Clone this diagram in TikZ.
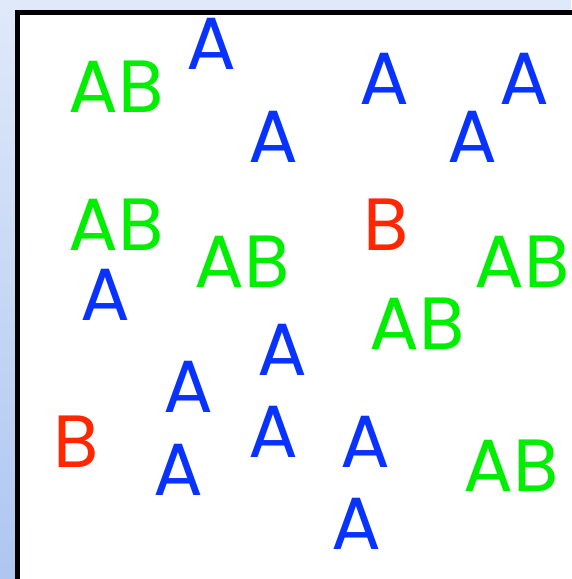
\documentclass[tikz,border=0pt]{standalone}
\usepackage{fontspec}
\setmainfont{Poppins}
\definecolor{ablue}{RGB}{8,50,255}
\definecolor{agreen}{RGB}{0,238,0}
\definecolor{bred}{RGB}{255,38,0}
\definecolor{bgtop}{RGB}{224,233,249}
\definecolor{bgbot}{RGB}{174,198,240}
\begin{document}
\begin{tikzpicture}[x=1pt,y=-1pt,
  lbl/.style={inner sep=0pt,anchor=base,font=\fontsize{74}{74}\selectfont},
  la/.style={lbl,text=ablue},
  lab/.style={lbl,text=agreen},
  lb/.style={lbl,text=bred}]
\useasboundingbox (0,0) rectangle (571,579);
\shade[top color=bgtop,bottom color=bgbot] (0,0) rectangle (571,579);
\fill[white] (17.5,12.3) rectangle (600,600);
\draw[line width=5pt] (17.5,600) -- (17.5,12.3) -- (600,12.3);
\node[lab] (n1) at (116.5,112) {AB};
\node[la] (n2) at (211.5,69) {A};
\node[la] (n3) at (384,104) {A};
\node[la] (n4) at (524,104) {A};
\node[la] (n5) at (273,162) {A};
\node[la] (n6) at (472,162) {A};
\node[lab] (n7) at (116.5,250) {AB};
\node[lb] (n8) at (386,250) {B};
\node[lab] (n9) at (242,287) {AB};
\node[lab] (n10) at (522,287) {AB};
\node[la] (n11) at (105,320) {A};
\node[lab] (n12) at (417,349) {AB};
\node[la] (n13) at (282.5,375) {A};
\node[la] (n14) at (188,412) {A};
\node[lb] (n15) at (76,467) {B};
\node[la] (n16) at (273,457) {A};
\node[la] (n17) at (365,467) {A};
\node[la] (n18) at (178,495) {A};
\node[lab] (n19) at (511.5,491) {AB};
\node[la] (n20) at (356,549) {A};
\end{tikzpicture}
\end{document}
